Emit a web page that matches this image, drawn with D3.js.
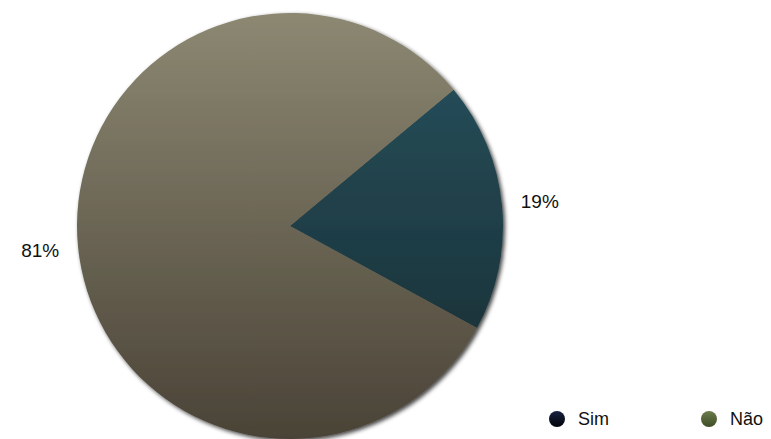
<!DOCTYPE html>
<html>
<head>
<meta charset="utf-8">
<script src="https://cdn.jsdelivr.net/npm/d3@7"></script>
<style>
    body { margin: 0; background: #fff; }
    text { font-family: "Liberation Sans", Arial, sans-serif; }
</style>
</head>
<body>
<div class="chart"></div>
<script>
const categories = ["Sim", "Não"]
const values = [19, 81]
const labels = ["19%", "81%"]

const width = 771,
    height = 439,
    cx = 290,
    cy = 226,
    radius = 213

const svg = d3.select(".chart").append("svg")
    .attr("width", width)
    .attr("height", height)

const defs = svg.append("defs")

// slice gradients, top lighter to bottom darker
const grads = [
    { id: "g-sim", top: "#28535f", bottom: "#172a2f" },
    { id: "g-nao", top: "#8c8872", bottom: "#4a4337" },
    { id: "l-sim", top: "#182240", bottom: "#02040a" },
    { id: "l-nao", top: "#6c7c4c", bottom: "#3f4c26" }
]
grads.forEach(g => {
    const lg = defs.append("linearGradient")
        .attr("id", g.id)
        .attr("x1", 0).attr("y1", 0)
        .attr("x2", 0).attr("y2", 1)
    lg.append("stop").attr("offset", "0%").attr("stop-color", g.top)
    lg.append("stop").attr("offset", "100%").attr("stop-color", g.bottom)
})
defs.selectAll("#g-sim, #g-nao")
    .attr("gradientUnits", "userSpaceOnUse")
    .attr("x1", 0).attr("y1", -radius).attr("x2", 0).attr("y2", radius)

const shadow = defs.append("filter").attr("id", "shadow")
    .attr("x", "-10%").attr("y", "-10%").attr("width", "130%").attr("height", "130%")
shadow.append("feDropShadow")
    .attr("dx", 2).attr("dy", 2).attr("stdDeviation", 2)
    .attr("flood-color", "#000").attr("flood-opacity", 0.75)

const start = 50.2 * Math.PI / 180
const pie = d3.pie()
    .sort(null)
    .startAngle(start)
    .endAngle(start + 2 * Math.PI)
    .value(d => d)

const arc = d3.arc().innerRadius(0).outerRadius(radius)
const fills = ["url(#g-sim)", "url(#g-nao)"]

const g = svg.append("g")
    .attr("transform", `translate(${cx},${cy})`)

g.append("g")
    .attr("filter", "url(#shadow)")
    .selectAll("path")
    .data(pie(values))
    .enter()
    .append("path")
    .attr("d", arc)
    .attr("fill", (d, i) => fills[i])

// outside labels
const labelArc = d3.arc().innerRadius(radius + 38).outerRadius(radius + 38)
g.selectAll(".pct")
    .data(pie(values))
    .enter()
    .append("text")
    .attr("class", "pct")
    .attr("transform", d => {
        const c = labelArc.centroid(d)
        return `translate(${c[0]},${c[1]})`
    })
    .attr("text-anchor", "middle")
    .attr("dy", "0.35em")
    .attr("font-size", 19)
    .attr("fill", "#111")
    .text((d, i) => labels[i])

// legend
const legendX = d3.scalePoint().domain(categories).range([557, 709])
const legend = svg.selectAll(".legend")
    .data(categories)
    .enter()
    .append("g")
    .attr("class", "legend")
    .attr("transform", d => `translate(${legendX(d)},419)`)

legend.append("circle")
    .attr("r", 8)
    .attr("fill", (d, i) => i === 0 ? "url(#l-sim)" : "url(#l-nao)")

legend.append("text")
    .attr("x", 21)
    .attr("dy", "0.35em")
    .attr("font-size", 18)
    .attr("fill", "#111")
    .text(d => d)
</script>
</body>
</html>
